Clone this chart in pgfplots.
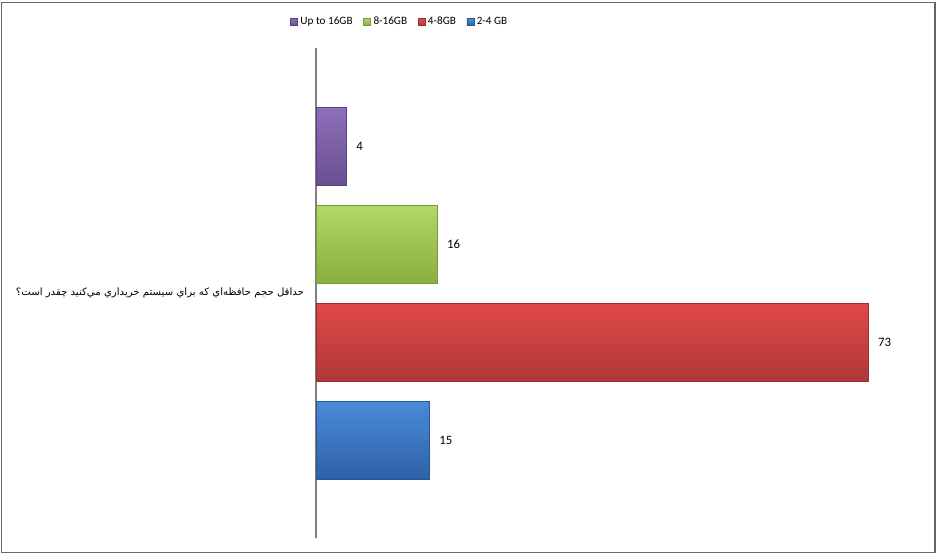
\documentclass[border=0pt]{standalone}
\usepackage{pgfplots}
\pgfplotsset{compat=1.18}
\usepackage{fontspec}
\setmainfont{Carlito}
\newfontfamily\arabicfont[Script=Arabic]{DejaVu Sans}
\TeXXeTstate=1
\definecolor{purT}{HTML}{8E70BA}\definecolor{purB}{HTML}{6A4E92}\definecolor{purD}{HTML}{5A4080}
\definecolor{grnT}{HTML}{B2D86A}\definecolor{grnB}{HTML}{8AAE3E}\definecolor{grnD}{HTML}{7A9A36}
\definecolor{redT}{HTML}{E04848}\definecolor{redB}{HTML}{B03838}\definecolor{redD}{HTML}{9A2E2E}
\definecolor{bluT}{HTML}{4A8AD8}\definecolor{bluB}{HTML}{2E62A8}\definecolor{bluD}{HTML}{285892}
\begin{document}
\begin{tikzpicture}
\useasboundingbox (0,0) rectangle (702.75pt,415.5pt);
\draw[gray!80!black, line width=0.9pt] (1.1pt,1.1pt) rectangle (701.3pt,413.6pt);
\begin{axis}[
  at={(237pt,12pt)}, anchor=south west,
  scale only axis, width=453.75pt, height=367.5pt,
  xmin=0, xmax=80, ymin=-1, ymax=4,
  hide x axis,
  axis y line*=left,
  y axis line style={gray, line width=0.8pt, -},
  ytick={1.5}, major tick length=0pt,
  yticklabels={{\arabicfont\beginR حداقل حجم حافظه‌اي که براي سيستم خريداري مي‌کنيد چقدر است؟\endR}},
  yticklabel style={font=\fontsize{7.6pt}{9pt}\selectfont, xshift=-5.5pt},
  legend columns=4,
  legend style={at={(-0.043,1.053)}, anchor=west, draw=none, fill=none,
    font=\fontsize{8.4pt}{10pt}\selectfont,
    /tikz/every even column/.append style={column sep=6pt},
    inner sep=0pt},
  legend image code/.code={\draw[#1] (0pt,-2.6pt) rectangle (5.25pt,2.6pt);},
]
\addplot[xbar, bar width=58.5pt, bar shift=0pt, top color=purT, bottom color=purB, draw=purD] coordinates {(4,3)};
\addlegendentry{Up to 16GB}
\addplot[xbar, bar width=58.5pt, bar shift=0pt, top color=grnT, bottom color=grnB, draw=grnD] coordinates {(16,2)};
\addlegendentry{8-16GB}
\addplot[xbar, bar width=58.5pt, bar shift=0pt, top color=redT, bottom color=redB, draw=redD] coordinates {(73,1)};
\addlegendentry{4-8GB}
\addplot[xbar, bar width=58.5pt, bar shift=0pt, top color=bluT, bottom color=bluB, draw=bluD] coordinates {(15,0)};
\addlegendentry{2-4 GB}
\addplot[forget plot, draw=none, mark=none, nodes near coords, point meta=explicit symbolic,
  every node near coord/.append style={anchor=west, xshift=4pt, yshift=0pt, black, font=\fontsize{9.6pt}{11pt}\selectfont}]
  coordinates {(4,3) [4] (16,2) [16] (73,1) [73] (15,0) [15]};
\end{axis}
\end{tikzpicture}
\end{document}
